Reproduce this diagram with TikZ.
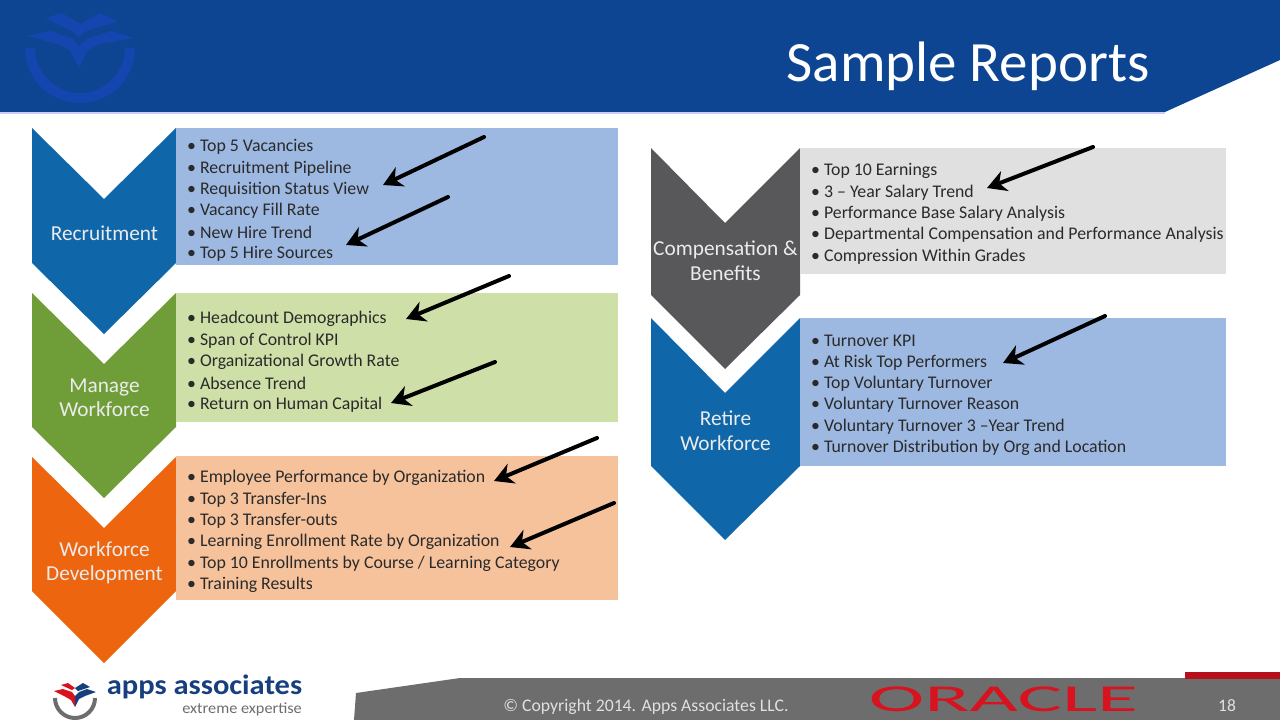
\documentclass[tikz,border=0pt]{standalone}
\usepackage{fontspec}
\setmainfont{Carlito}
\usepackage{tikz}
\usetikzlibrary{positioning,arrows.meta}

\definecolor{headblue}{HTML}{0D4592}
\definecolor{markblue}{HTML}{1545AE}
\definecolor{chevblue}{HTML}{0F66A8}
\definecolor{chevgreen}{HTML}{6F9E38}
\definecolor{chevorange}{HTML}{EE6510}
\definecolor{chevgrey}{HTML}{58585A}
\definecolor{panelblue}{HTML}{9DB9E2}
\definecolor{panelgreen}{HTML}{CFDFA8}
\definecolor{panelorange}{HTML}{F6C29C}
\definecolor{panelgrey}{HTML}{E0E0E0}
\definecolor{itemtext}{HTML}{2A2A2A}
\definecolor{footgrey}{HTML}{6D6D6D}
\definecolor{oraclered}{HTML}{D8131F}
\definecolor{appsnavy}{HTML}{173F7F}

\begin{document}
\begin{tikzpicture}[x=1pt, y=-1pt,
  item/.style={inner sep=0pt, anchor=west, text=itemtext, font=\fontsize{17.8}{20}\selectfont,
    execute at begin node=\textbullet\hspace{4pt}},
  item after/.style={below=21.4pt of #1.west, anchor=west},
  chevlabel/.style={text=white!92!black, align=center, font=\fontsize{21.3}{24.5}\selectfont},
  pointer/.style={line width=4pt, line cap=round, -{Stealth[length=19pt,width=21pt,inset=6pt]}}]

\useasboundingbox (0,0) rectangle (1280,720);

% header
\fill[headblue] (0,0) -- (1280,0) -- (1280,60) -- (1165,112) -- (0,112) -- cycle;
\fill[blue!20!white] (0,112) rectangle (1165,114);
\node[text=white, font=\fontsize{57}{60}\selectfont] (title) at (968,66) {Sample Reports};

% faint mark in the header
\draw[markblue, line width=10pt] (30,48) arc (180:0:50);
\fill[markblue] (27,36) -- (50,31) -- (72,38) -- (79,46) -- (88,38) -- (112,31) -- (134,38)
  -- (100,44) -- (88,50) -- (79,68) -- (70,50) -- (58,44) -- cycle;
\fill[markblue] (45,18) -- (62,13) -- (80,24) -- (100,13) -- (118,22) -- (88,30) -- (79,37) -- (70,30) -- cycle;

% chevrons
\fill[chevblue] (32,128) -- (104,199) -- (176,128) -- (176,263) -- (104,334) -- (32,263) -- cycle;
\fill[chevgreen] (32,293) -- (104,364) -- (176,293) -- (176,427) -- (104,498) -- (32,427) -- cycle;
\fill[chevorange] (32,457) -- (104,528) -- (176,457) -- (176,591) -- (104,663) -- (32,591) -- cycle;
\fill[chevgrey] (651,148) -- (725,223) -- (800,148) -- (800,295) -- (725,369) -- (651,295) -- cycle;
\fill[chevblue] (651,318) -- (725,393) -- (800,318) -- (800,466) -- (725,540) -- (651,466) -- cycle;

\node[chevlabel] (recruit) at (104.5,233.5) {Recruitment};
\node[chevlabel] (manage) at (104.5,397.5) {Manage\\Workforce};
\node[chevlabel] (develop) at (104.5,563) {Workforce\\Development};
\node[chevlabel] (comp) at (725.5,260.5) {Compensation \&\\Benefits};
\node[chevlabel] (retire) at (725.5,430.5) {Retire\\Workforce};

% panels
\fill[panelblue] (176,128) rectangle (618,265);
\fill[panelgreen] (176,293) rectangle (618,422);
\fill[panelorange] (176,456) rectangle (618,600);
\fill[panelgrey] (800,148) rectangle (1226,274);
\fill[panelblue] (800,318) rectangle (1226,466);

% recruitment list
\node[item] (r1) at (187,147) {Top 5 Vacancies};
\node[item, item after=r1] (r2) {Recruitment Pipeline};
\node[item, item after=r2] (r3) {Requisition Status View};
\node[item, item after=r3] (r4) {Vacancy Fill Rate};
\node[item, item after=r4] (r5) {New Hire Trend};
\node[item, item after=r5] (r6) {Top 5 Hire Sources};

% workforce list
\node[item] (m1) at (187,319) {Headcount Demographics};
\node[item, item after=m1] (m2) {Span of Control KPI};
\node[item, item after=m2] (m3) {Organizational Growth Rate};
\node[item, item after=m3] (m4) {Absence Trend};
\node[item, item after=m4] (m5) {Return on Human Capital};

% development list
\node[item] (d1) at (187,478) {Employee Performance by Organization};
\node[item, item after=d1] (d2) {Top 3 Transfer-Ins};
\node[item, item after=d2] (d3) {Top 3 Transfer-outs};
\node[item, item after=d3] (d4) {Learning Enrollment Rate by Organization};
\node[item, item after=d4] (d5) {Top 10 Enrollments by Course / Learning Category};
\node[item, item after=d5] (d6) {Training Results};

% compensation list
\node[item] (c1) at (811,171) {Top 10 Earnings};
\node[item, item after=c1] (c2) {3 -- Year Salary Trend};
\node[item, item after=c2] (c3) {Performance Base Salary Analysis};
\node[item, item after=c3] (c4) {Departmental Compensation and Performance Analysis};
\node[item, item after=c4] (c5) {Compression Within Grades};

% retire list
\node[item] (t1) at (811,341) {Turnover KPI};
\node[item, item after=t1] (t2) {At Risk Top Performers};
\node[item, item after=t2] (t3) {Top Voluntary Turnover};
\node[item, item after=t3] (t4) {Voluntary Turnover Reason};
\node[item, item after=t4] (t5) {Voluntary Turnover 3 --Year Trend};
\node[item, item after=t5] (t6) {Turnover Distribution by Org and Location};

% hand drawn arrows
\coordinate (s1) at (484,137);  \coordinate (e1) at (383,185);
\coordinate (s2) at (448,197);  \coordinate (e2) at (346,245);
\coordinate (s3) at (509,276);  \coordinate (e3) at (406,319);
\coordinate (s4) at (495,362);  \coordinate (e4) at (391,403);
\coordinate (s5) at (597,438);  \coordinate (e5) at (494,481);
\coordinate (s6) at (614,503);  \coordinate (e6) at (510,547);
\coordinate (s7) at (1093,147); \coordinate (e7) at (987,188);
\coordinate (s8) at (1105,316); \coordinate (e8) at (1003,363);
\foreach \i in {1,...,8}
  \draw[pointer] (s\i) -- (e\i);

% footer
\fill[footgrey] (354,720) -- (356,693) -- (460,678) -- (1280,678) -- (1280,720) -- cycle;
\fill[oraclered!85!black] (1185,672) rectangle (1280,679);
\node[text=white!88!black, font=\fontsize{17.7}{20}\selectfont] (copyright) at (646,707) {© Copyright 2014. Apps Associates LLC.};
\node[text=oraclered, font=\fontsize{38}{40}\selectfont, xscale=2.2] (oracle) at (1003.5,699.5) {ORACLE};
\node[text=white!88!black, font=\fontsize{17.5}{20}\selectfont] (page) at (1227,706) {18};

% apps associates logo
\draw[footgrey, line width=4pt] (55,698) arc (180:0:20);
\fill[oraclered] (54,691) -- (63,689) -- (72,692) -- (75,696) -- (75,707) -- (71,700) -- (64,696) -- cycle;
\fill[oraclered] (61,685) -- (68,683) -- (75,688) -- (72,690) -- cycle;
\fill[appsnavy] (75,696) -- (79,692) -- (87,689) -- (96,692) -- (85,696) -- (79,699) -- (75,707) -- cycle;
\fill[appsnavy] (75,688) -- (83,683) -- (90,687) -- (78,691) -- cycle;
\node[text=appsnavy, font=\fontsize{28}{30}\bfseries\selectfont, xscale=1.09, inner sep=0pt] (apps) at (204.5,687) {apps associates};
\node[text=footgrey, font=\fontsize{15.5}{17}\selectfont, xscale=1.05, inner sep=0pt, anchor=east] (motto) at (302,709) {extreme expertise};
\end{tikzpicture}
\end{document}
